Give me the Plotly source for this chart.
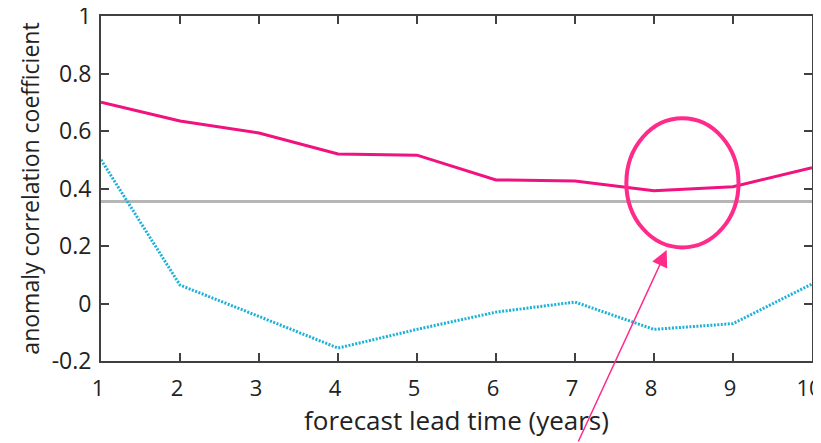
import plotly.graph_objects as go

lead_years = [1, 2, 3, 4, 5, 6, 7, 8, 9, 10]
acc_solid = [0.70, 0.635, 0.593, 0.52, 0.516, 0.43, 0.426, 0.392, 0.406, 0.472]
acc_dotted = [0.50, 0.064, -0.045, -0.155, -0.09, -0.03, 0.005, -0.09, -0.07, 0.068]
significance_level = 0.355
y_ticks = [-0.2, 0, 0.2, 0.4, 0.6, 0.8, 1]
y_tick_text = ["-0.2", "0", "0.2", "0.4", "0.6", "0.8", "1"]

FONT = "Open Sans"
axis_col = "#404040"

fig = go.Figure()
fig.add_trace(go.Scatter(x=[1, 10], y=[significance_level, significance_level], mode="lines",
                         line=dict(color="#b6b6b6", width=3), showlegend=False, hoverinfo="skip"))
fig.add_trace(go.Scatter(x=lead_years, y=acc_dotted, mode="lines",
                         line=dict(color="#1cb2d8", width=3, dash="2px,1.5px"), showlegend=False))
fig.add_trace(go.Scatter(x=lead_years, y=acc_solid, mode="lines",
                         line=dict(color="#f0127e", width=3), showlegend=False))

# highlight ellipse
fig.add_shape(type="circle", xref="x", yref="y", x0=7.65, x1=9.07, y0=0.195, y1=0.644,
              line=dict(color="#ff2a8a", width=4))
# arrow
fig.add_annotation(x=8.16, y=0.186, xref="x", yref="y", ax=-89, ay=200, axref="pixel", ayref="pixel",
                   showarrow=True, arrowhead=2, arrowsize=2.2, arrowwidth=1.5, arrowcolor="#ff2a8a", text="")

fig.update_layout(
    width=813, height=435,
    margin=dict(l=93, r=9, t=8, b=82, autoexpand=False),
    paper_bgcolor="white", plot_bgcolor="white",
    font=dict(family=FONT, size=23, color="#222222"),
    xaxis=dict(range=[1, 10], tickvals=lead_years, ticks="inside", ticklen=8,
               tickwidth=2, tickcolor=axis_col, showline=True, linecolor=axis_col, linewidth=2,
               mirror="ticks", showgrid=False, zeroline=False, automargin=False,
               ticklabeloverflow="allow", ticklabelstandoff=7, ticklabelshift=-3,
               title=dict(text="forecast lead time (years)", font=dict(size=26), standoff=3),
               tickfont=dict(size=22)),
    yaxis=dict(range=[-0.2, 1], tickvals=y_ticks, ticktext=y_tick_text, ticks="inside", ticklen=8,
               tickwidth=2, tickcolor=axis_col, showline=True, linecolor=axis_col, linewidth=2,
               mirror="ticks", showgrid=False, zeroline=False, automargin=False,
               ticklabeloverflow="allow", ticklabelstandoff=3,
               title=dict(text="anomaly correlation coefficient", font=dict(size=23), standoff=6),
               tickfont=dict(size=23)),
)
fig.write_html("out.html")
